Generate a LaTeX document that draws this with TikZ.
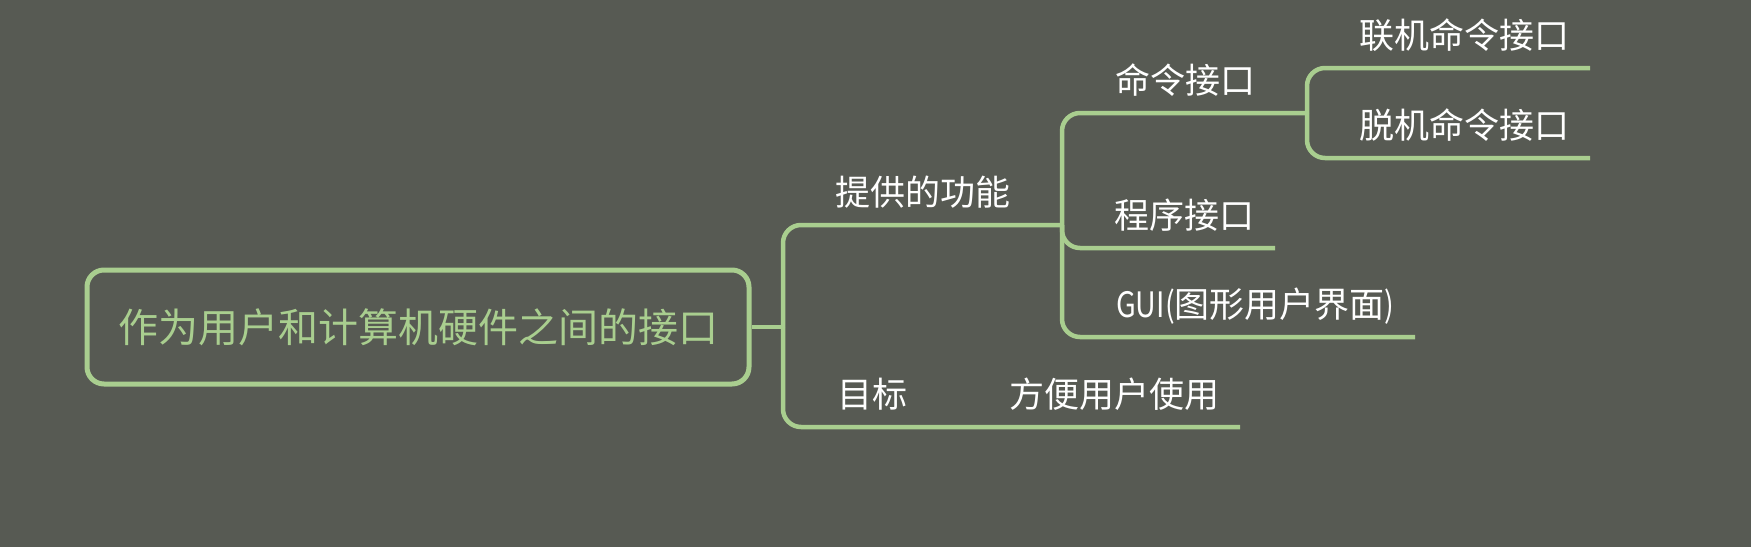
\documentclass[tikz,border=0pt]{standalone}
\usepackage{fontspec}
\newfontfamily\cjk{Noto Sans CJK SC}
\newfontfamily\cjknarrow{Noto Sans CJK SC}[FakeStretch=0.82]
\definecolor{bgc}{HTML}{575A53}
\definecolor{grn}{HTML}{A9CE8F}
\tikzset{
  branch/.style={draw=grn, line width=4.5pt, rounded corners=18pt},
  leaf/.style={anchor=west, inner sep=0pt, text=white, font=\cjk\fontsize{35}{40}\selectfont},
  rootbox/.style={draw=grn, line width=5pt, rounded corners=17pt, minimum width=662pt, minimum height=114pt, inner sep=0pt, text=grn, font=\cjk\fontsize{40}{44}\selectfont}
}
\begin{document}
\begin{tikzpicture}[x=1pt,y=-1pt]
\fill[bgc] (0,0) rectangle (1751,547);
\useasboundingbox (0,0) rectangle (1751,547);
% root
\node[rootbox] (root) at (418,327) {作为用户和计算机硬件之间的接口};
% junctions and line ends
\coordinate (j1) at (783,327);
\coordinate (j2) at (1062,225);
\coordinate (j3) at (1307,113);
\coordinate (e-mb) at (1240,427);
\coordinate (e-cx) at (1275,248);
\coordinate (e-gui) at (1415,337);
\coordinate (e-lj) at (1590,68);
\coordinate (e-tj) at (1590,158);
% text nodes
\node[leaf] (tigong) at (835,192) {提供的功能};
\node[leaf] (mubiao) at (837,394) {目标};
\node[leaf] (fangbian) at (1009,394) {方便用户使用};
\node[leaf] (mingling) at (1115,80) {命令接口};
\node[leaf] (chengxu) at (1114,215) {程序接口};
\node[leaf] (gui) at (1116,306) {{\cjknarrow GUI(}图形用户界面{\cjknarrow )}};
\node[leaf] (lianji) at (1359,35) {联机命令接口};
\node[leaf] (tuoji) at (1359,125) {脱机命令接口};
% connectors
\draw[draw=grn, line width=4.5pt] (root.east) -- (j1);
\draw[branch] (j1) |- (j2);
\draw[branch] (j1) |- (e-mb);
\draw[branch] (j2) |- (j3);
\draw[branch] (j2) |- (e-cx);
\draw[branch] (j2) |- (e-gui);
\draw[branch] (j3) |- (e-lj);
\draw[branch] (j3) |- (e-tj);
\end{tikzpicture}
\end{document}
